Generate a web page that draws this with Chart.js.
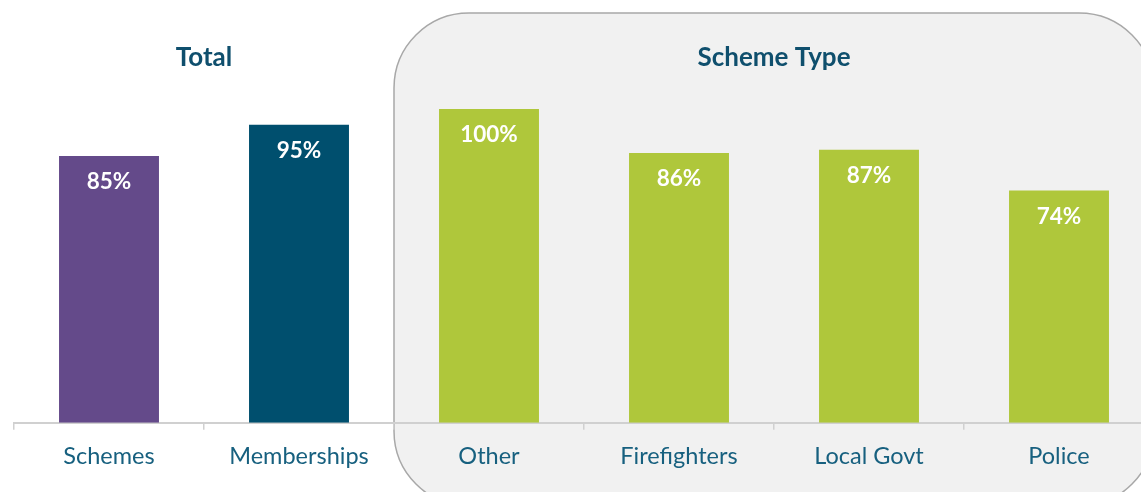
<!DOCTYPE html>
<html>
<head>
<meta charset="utf-8">
<script src="https://cdn.jsdelivr.net/npm/chart.js@4.4.1/dist/chart.umd.min.js"></script>
<style>
  html, body { margin: 0; padding: 0; background: #ffffff; overflow: hidden; }
  #wrap { position: relative; width: 1168px; height: 492px; }
</style>
</head>
<body>
<div id="wrap"><canvas id="chart"></canvas></div>
<script>
const CATEGORIES = ["Schemes", "Memberships", "Other", "Firefighters", "Local Govt", "Police"];
const VALUES = [85, 95, 100, 86, 87, 74];
const BAR_COLORS = ["#644a8a", "#004f6e", "#afc73b", "#afc73b", "#afc73b", "#afc73b"];
const GROUPS = [
  { title: "Total", from: 0, to: 1, boxed: false },
  { title: "Scheme Type", from: 2, to: 5, boxed: true }
];

const FONT = '"Lato", "Open Sans", sans-serif';

function roundRect(ctx, x, y, w, h, r) {
  ctx.beginPath();
  ctx.moveTo(x + r, y);
  ctx.lineTo(x + w - r, y);
  ctx.arcTo(x + w, y, x + w, y + r, r);
  ctx.lineTo(x + w, y + h - r);
  ctx.arcTo(x + w, y + h, x + w - r, y + h, r);
  ctx.lineTo(x + r, y + h);
  ctx.arcTo(x, y + h, x, y + h - r, r);
  ctx.lineTo(x, y + r);
  ctx.arcTo(x, y, x + r, y, r);
  ctx.closePath();
}

// group panels and headings behind the bars
const groupPanels = {
  id: "groupPanels",
  beforeDraw(chart) {
    const { ctx, scales } = chart;
    const xs = scales.x;
    const half = (xs.getPixelForValue(1) - xs.getPixelForValue(0)) / 2;
    ctx.save();
    GROUPS.forEach((g) => {
      const left = xs.getPixelForValue(g.from) - half;
      const right = xs.getPixelForValue(g.to) + half;
      if (g.boxed) {
        roundRect(ctx, left, 13, right - left, 493, 75);
        ctx.fillStyle = "#f1f1f1";
        ctx.fill();
        ctx.strokeStyle = "#a8a8a8";
        ctx.lineWidth = 1.5;
        ctx.stroke();
      }
      ctx.fillStyle = "#0f4f6d";
      ctx.font = `bold 26px ${FONT}`;
      ctx.textAlign = "center";
      ctx.textBaseline = "middle";
      ctx.fillText(g.title, (left + right) / 2, 58);
    });
    ctx.restore();
  }
};

// percentage labels inside the top of each bar
const barLabels = {
  id: "barLabels",
  afterDatasetsDraw(chart) {
    const { ctx } = chart;
    const meta = chart.getDatasetMeta(0);
    ctx.save();
    ctx.fillStyle = "#ffffff";
    ctx.font = `bold 22.5px ${FONT}`;
    ctx.textAlign = "center";
    ctx.textBaseline = "middle";
    meta.data.forEach((bar, i) => {
      ctx.fillText(`${VALUES[i]}%`, bar.x, bar.y + 26);
    });
    ctx.restore();
  }
};

new Chart(document.getElementById("chart"), {
  type: "bar",
  data: {
    labels: CATEGORIES,
    datasets: [
      {
        data: VALUES,
        backgroundColor: BAR_COLORS,
        borderWidth: 0,
        categoryPercentage: 1,
        barPercentage: 0.526
      }
    ]
  },
  options: {
    responsive: true,
    maintainAspectRatio: false,
    animation: false,
    layout: { padding: { left: 14, right: 14, top: 109, bottom: 8 } },
    plugins: {
      legend: { display: false },
      tooltip: { enabled: false }
    },
    scales: {
      x: {
        offset: true,
        grid: {
          offset: true,
          drawOnChartArea: false,
          drawTicks: true,
          tickLength: 7,
          color: "#d0d0d0",
          lineWidth: 1.5
        },
        border: { color: "#d0d0d0", width: 2 },
        ticks: {
          color: "#17607f",
          padding: 13,
          font: { family: FONT, size: 23.5 }
        }
      },
      y: {
        display: false,
        min: 0,
        max: 100
      }
    }
  },
  plugins: [groupPanels, barLabels]
});
</script>
</body>
</html>
